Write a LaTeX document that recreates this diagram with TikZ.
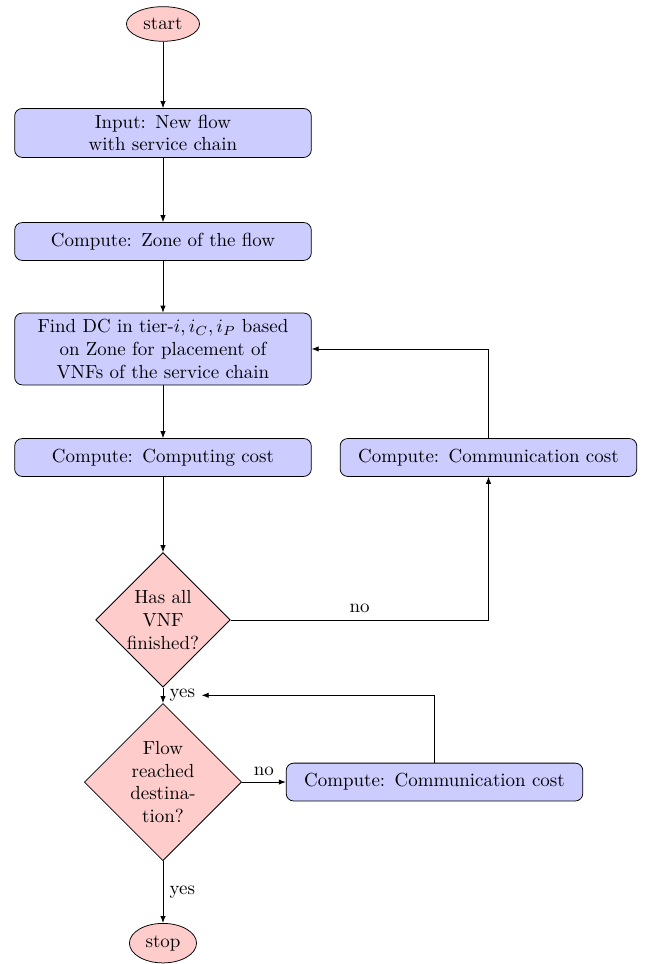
\documentclass[tikz,border=0pt]{standalone}
\usepackage{amsmath}
\usetikzlibrary{arrows.meta,shapes.geometric}

\begin{document}
\begin{tikzpicture}[
  block/.style={rectangle, draw, fill=blue!20, text width=15em, text centered, rounded corners, minimum height=2em},
  decision/.style={diamond, draw, fill=red!20, text width=4em, text centered, inner sep=0pt},
  terminal/.style={ellipse, draw, fill=red!20},
  line/.style={draw, -{Latex[length=1.3mm,width=1mm]}}
]
\useasboundingbox (-3.025,0.445) rectangle (8.946,-17.447);
% Main column
\node[terminal] (start) at (0,0) {start};
\node[block] (input) at (0,-2.023) {Input: New flow\\with service chain};
\node[block] (zone) at (0,-4.037) {Compute: Zone of the flow};
\node[block] (find) at (0,-6.032) {Find DC in tier-$i, i_C, i_P$ based\\on Zone for placement of\\VNFs of the service chain};
\node[block] (comp) at (0,-8.046) {Compute: Computing cost};
\node[decision] (dec1) at (0,-11.06) {Has all\\VNF\\finished?};
\node[decision] (dec2) at (0,-14.07) {Flow\\reached\\destina-\\tion?};
\node[terminal] (stop) at (0,-17.06) {stop};
% Side boxes
\node[block] (comm1) at (6.041,-8.046) {Compute: Communication cost};
\node[block] (comm2) at (5.039,-14.07) {Compute: Communication cost};
% Connectors
\path[line] (start) -- (input);
\path[line] (input) -- (zone);
\path[line] (zone) -- (find);
\path[line] (find) -- (comp);
\path[line] (comp) -- (dec1);
\path[line] (dec1) -| node[pos=0.25, above] (no1) {no} (comm1);
\path[line] (comm1) |- (find);
\path[line] (dec1) -- node[right] (yes1) {yes} (dec2);
\path[line] (comm2) |- (yes1);
\path[line] (dec2) -- node[above] (no2) {no} (comm2);
\path[line] (dec2) -- node[right] (yes2) {yes} (stop);
\end{tikzpicture}
\end{document}
